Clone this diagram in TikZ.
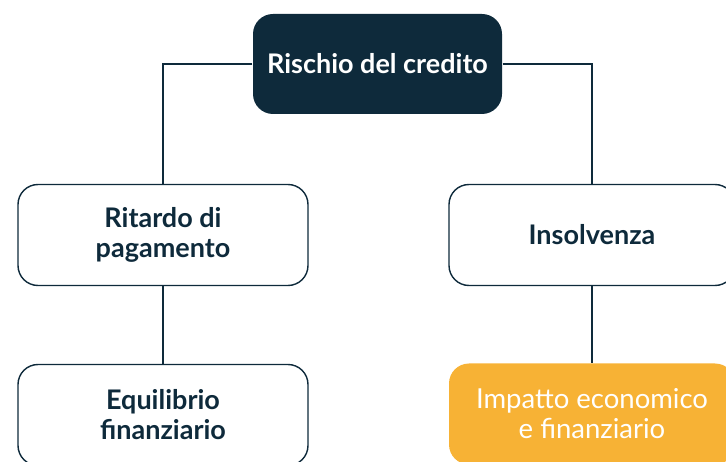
\documentclass[tikz,border=0pt]{standalone}
\usepackage{fontspec}
\setmainfont{Lato}
\usepackage{xcolor}
\definecolor{navy}{HTML}{0E2A3B}
\definecolor{gold}{HTML}{F7B235}
\usetikzlibrary{positioning, calc, shapes, arrows.meta}
\tikzstyle{Box} = [
rounded corners=20pt,
minimum width=290pt,
minimum height=101pt,
align=center,
font=\fontsize{27}{30}\selectfont\bfseries,
text=navy,
draw=navy,
line width=1.4pt,
fill=white]
\tikzstyle{Root} = [Box, draw=none, fill=navy, text=white,
minimum width=249pt, minimum height=100pt]
\tikzstyle{Goal} = [Box, draw=none, fill=gold, text=white,
font=\fontsize{27.5}{30}\selectfont]
\tikzstyle{Link} = [draw=navy, line width=1.2pt]

\begin{document}
\begin{tikzpicture}[x=1pt, y=-1pt]
    \useasboundingbox (0,0) rectangle (726,462);
    \node [Root] (risk) at (377.5,64) {Rischio del credito};
    \node [Box] (delay) at (163,235) {Ritardo di\\pagamento};
    \node [Box, minimum width=286pt] (default) at (592,235) {Insolvenza};
    \node [Box] (balance) at (163,415) {Equilibrio\\finanziario};
    \node [Goal, minimum width=286pt] (impact) at (592,414) {Impatto economico\\e finanziario};

    \draw[Link] (risk.west) -| (delay.north);
    \draw[Link] (risk.east) -| (default.north);
    \draw[Link] (delay.south) -- (balance.north);
    \draw[Link] (default.south) -- (impact.north);
\end{tikzpicture}
\end{document}
